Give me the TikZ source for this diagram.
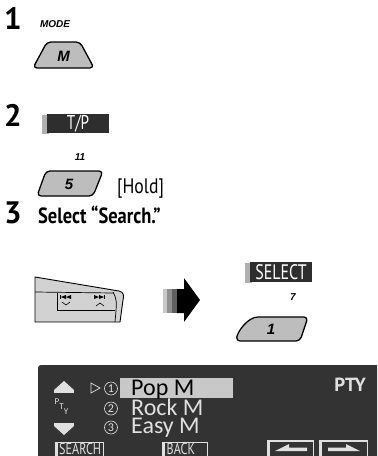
\documentclass[tikz,border=0pt]{standalone}
\usepackage{fontspec}
\setmainfont{PT Sans}
\newfontfamily\cond[FakeStretch=0.84]{PT Sans}
\newfontfamily\narrow[FakeStretch=0.76]{PT Sans}
\newfontfamily\helv{Liberation Sans}
\newfontfamily\lcd{Carlito}
\definecolor{btn}{HTML}{BDBDBD}
\definecolor{boxdark}{HTML}{2E2E2E}
\definecolor{strip}{HTML}{B0B0B0}
\definecolor{panel}{HTML}{333333}
\definecolor{hl}{HTML}{C8C8C8}
\definecolor{lt}{HTML}{E0E0E0}
\definecolor{ctrl}{HTML}{D2D2D2}
\tikzset{
  stepnum/.style={font=\fontsize{31}{31}\selectfont\bfseries, inner sep=0, anchor=base west},
  keylbl/.style={font=\helv\fontsize{10}{10}\selectfont\bfseries\itshape, inner sep=0},
  btnshape/.style={draw=black, line width=1.3pt, fill=btn, rounded corners=4pt, line join=round},
  btntxt/.style={font=\helv\fontsize{15}{15}\selectfont\bfseries\itshape, inner sep=0},
  darkkey/.style={fill=boxdark},
  darkkeytxt/.style={font=\narrow\fontsize{20}{20}\selectfont, text=white, inner sep=0},
  rowtxt/.style={font=\lcd\fontsize{24}{24}\selectfont, inner sep=0, anchor=base west},
  circnum/.style={circle, draw=lt, line width=0.6pt, minimum size=13pt, inner sep=0,
     font=\lcd\fontsize{12}{12}\selectfont, text=lt},
  softkey/.style={font=\narrow\fontsize{16}{16}\selectfont, text=lt, inner sep=0, anchor=base west},
}
\begin{document}
\begin{tikzpicture}[x=1pt,y=-1pt]
\useasboundingbox (0,0) rectangle (378,456);
% ---------- step 1
\node[stepnum] (s1) at (4,29) {1};
\node[keylbl] (mode) at (55,24) {MODE};
\draw[btnshape] (33,68) -- (47,42) -- (80,42) -- (94,68) -- cycle;
\node[btntxt] (mkey) at (63.5,56) {M};
% ---------- step 2
\node[stepnum] (s2) at (4,126) {2};
\fill[strip] (42,115) rectangle (49,134);
\fill[darkkey] (47,114) rectangle (109,133);
\node[darkkeytxt] (tp) at (78,124) {T/P};
\node[keylbl] (n11) at (80,157) {11};
\draw[btnshape] (37,196) -- (46,171) -- (103,171) -- (93,196) -- cycle;
\node[btntxt] (k5) at (69,184) {5};
\node[font=\cond\fontsize{21}{21}\selectfont, inner sep=0, anchor=base west] (hold) at (117,193) {[Hold]};
% ---------- step 3
\node[stepnum] (s3) at (4,223) {3};
\node[font=\cond\fontsize{22}{22}\selectfont\bfseries, inner sep=0, anchor=base west] (sel) at (38,223) {Select “Search.”};
% steering control
\draw[fill=ctrl, line width=0.9pt, line join=round] (35,277) -- (119,291) .. controls (124,292) and (124,296) .. (123,300) -- (120,322) -- (35,322) -- cycle;
\draw[line width=0.7pt] (35,292) -- (113,293);
\draw[line width=0.7pt] (57,293) -- (57,310) -- (115,310);
\draw[line width=0.7pt] (113,292) .. controls (117,300) .. (115,322);
\fill (60,295) rectangle (60.8,299);
\fill (60.8,297) -- (66,295) -- (66,299) -- cycle;
\fill (66,297) -- (71,295) -- (71,299) -- cycle;
\draw[line width=0.6pt] (62,302) -- (66,305) -- (70,302);
\fill (94,295) -- (99,297) -- (94,299) -- cycle;
\fill (99,295) -- (104,297) -- (99,299) -- cycle;
\fill (104,295) rectangle (104.8,299);
\draw[line width=0.6pt] (96,306) -- (100,303) -- (104,306);
% big arrow
\fill[color={rgb,255:red,200;green,200;blue,200}] (163,289) rectangle (167,313);
\fill[color={rgb,255:red,144;green,144;blue,144}] (167,289) rectangle (172,313);
\fill[color={rgb,255:red,96;green,96;blue,96}] (172,289) rectangle (177,313);
\fill[black] (177,289) -- (184,289) -- (184,278) -- (200,300) -- (184,322) -- (184,313) -- (177,313) -- cycle;
% SELECT
\fill[strip] (245,263) rectangle (252,283);
\fill[darkkey] (250,262) rectangle (312,282);
\node[darkkeytxt, font=\narrow\fontsize{21}{21}\selectfont] (selk) at (281,272) {SELECT};
\node[keylbl] (n7) at (293,297) {7};
\draw[btnshape] (236,341) .. controls (238,331) and (248,317) .. (262,317) -- (308,317) -- (300,341) -- cycle;
\node[btntxt] (k1) at (271,329) {1};
% ---------- display panel
\fill[panel] (38,456) -- (38,368) arc[start angle=180, end angle=270, radius=3] -- (377,365) -- (377,456) -- cycle;
% up / down
\fill[lt] (54,390) -- (64,381) -- (74,390) -- cycle;
\fill[lt] (54,390) rectangle (74,393);
\fill[lt] (54,423) rectangle (74,426);
\fill[lt] (54,426) -- (74,426) -- (64,435) -- cycle;
\node[font=\lcd\fontsize{9}{9}\selectfont, text=lt, inner sep=0] (pp) at (57,402) {P};
\node[font=\lcd\fontsize{9}{9}\selectfont, text=lt, inner sep=0] (pt) at (61.5,407) {T};
\node[font=\lcd\fontsize{9}{9}\selectfont, text=lt, inner sep=0] (py) at (66,412) {Y};
% rows
\draw[lt, line width=0.7pt, line join=miter] (91,383) -- (100,388) -- (91,393) -- cycle;
\node[circnum] (c1) at (111,388.5) {1};
\node[circnum] (c2) at (111,408.5) {2};
\node[circnum] (c3) at (111,427.5) {3};
\fill[hl] (120,378) rectangle (233,398);
\node[rowtxt, text=black] (r1) at (131,395.5) {Pop M};
\node[rowtxt, text=lt] (r2) at (131,415.5) {Rock M};
\node[rowtxt, text=lt] (r3) at (131,433.5) {Easy M};
\node[font=\fontsize{19}{19}\selectfont\bfseries, text=lt, inner sep=0, anchor=base east] (pty) at (366,391) {PTY};
% soft keys
\draw[lt, line width=0.6pt] (56,456) -- (56,442) -- (103,442) -- (103,456);
\fill[lt] (55,442) rectangle (57.5,456);
\node[softkey] (search) at (59,454.5) {SEARCH};
\draw[lt, line width=0.6pt] (163,456) -- (163,442) -- (207,442) -- (207,456);
\fill[lt] (162,442) rectangle (164.5,456);
\node[softkey] (back) at (166.5,454.5) {BACK};
\draw[lt, line width=0.6pt] (268,456) -- (268,440) -- (313,440) -- (313,456);
\fill[lt] (267,440) rectangle (269.5,456);
\fill[lt] (267,440) rectangle (313,441.5);
\fill[lt] (275,451) -- (289,444) -- (289,447.5) -- (307,447.5) -- (307,451) -- cycle;
\draw[lt, line width=0.6pt] (320,456) -- (320,440) -- (367,440) -- (367,456);
\fill[lt] (319,440) rectangle (321.5,456);
\fill[lt] (319,440) rectangle (367,441.5);
\fill[lt] (360,451) -- (346,444) -- (346,447.5) -- (328,447.5) -- (328,451) -- cycle;
\end{tikzpicture}
\end{document}
